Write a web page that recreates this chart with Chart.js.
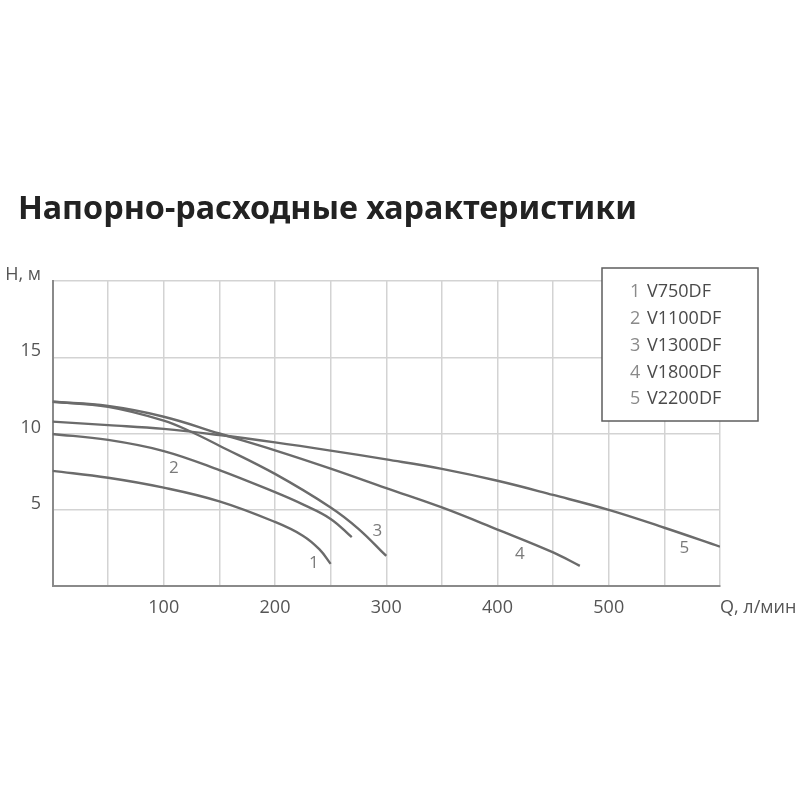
<!DOCTYPE html>
<html>
<head>
<meta charset="utf-8">
<script src="https://cdn.jsdelivr.net/npm/chart.js@4"></script>
<style>
  html, body { margin: 0; padding: 0; background: #fff; }
  #wrap { width: 800px; height: 800px; }
</style>
</head>
<body>
<div id="wrap"><canvas id="c" width="800" height="800"></canvas></div>
<script>
const titleText = "Напорно-расходные характеристики";

// модели насосов
const models = ["V750DF", "V1100DF", "V1300DF", "V1800DF", "V2200DF"];

// Q, л/мин и H, м для каждой кривой
const q1 = [0, 50, 100, 150, 200, 225, 240, 250];
const h1 = [7.55, 7.1, 6.45, 5.55, 4.2, 3.3, 2.4, 1.45];
const q2 = [0, 50, 100, 150, 200, 225, 250, 269];
const h2 = [9.97, 9.58, 8.85, 7.6, 6.15, 5.35, 4.4, 3.2];
const q3 = [0, 50, 100, 125, 150, 200, 250, 275, 300];
const h3 = [12.08, 11.75, 10.85, 10.1, 9.2, 7.35, 5.15, 3.75, 1.97];
const q4 = [0, 50, 100, 150, 200, 250, 300, 350, 400, 450, 474];
const h4 = [12.08, 11.8, 11.1, 10.0, 8.9, 7.7, 6.42, 5.15, 3.7, 2.2, 1.32];
const q5 = [0, 50, 100, 150, 200, 250, 300, 350, 400, 450, 500, 550, 600];
const h5 = [10.78, 10.55, 10.3, 9.9, 9.42, 8.88, 8.3, 7.68, 6.9, 5.97, 4.99, 3.82, 2.58];

// где стоят номера кривых (в единицах осей)
const labelQ = [235, 109, 292, 420, 568];
const labelH = [1.5, 7.7, 3.6, 2.1, 2.5];

// подписи делений
const xTicks = [100, 200, 300, 400, 500];
const yTicks = [5, 10, 15];

const qs = [q1, q2, q3, q4, q5];
const hs = [h1, h2, h3, h4, h5];

const lineColor = "#6b6b6b";

const datasets = models.map((m, i) => ({
  label: m,
  data: qs[i].map((q, j) => ({ x: q, y: hs[i][j] })),
  borderColor: lineColor,
  borderWidth: 2.4,
  pointRadius: 0,
  fill: false,
  tension: 0.4,
}));

// заголовок, номера кривых, подпись оси Q и рамка с легендой
const extras = {
  id: "extras",
  afterDraw(chart) {
    const ctx = chart.ctx;
    const xs = chart.scales.x, ys = chart.scales.y;
    ctx.save();

    ctx.font = "bold 32.3px 'Noto Sans'";
    ctx.fillStyle = "#222";
    ctx.textAlign = "left";
    ctx.textBaseline = "alphabetic";
    ctx.fillText(titleText, 18, 219);

    ctx.font = "17px 'Open Sans'";
    ctx.fillStyle = "#7a7a7a";
    ctx.textAlign = "center";
    ctx.textBaseline = "middle";
    labelQ.forEach((q, i) => {
      ctx.fillText(String(i + 1), xs.getPixelForValue(q), ys.getPixelForValue(labelH[i]));
    });

    ctx.font = "18px 'Open Sans'";
    ctx.fillStyle = "#555";
    ctx.textAlign = "left";
    ctx.fillText("Q, л/мин", xs.getPixelForValue(600), 608);

    // легенда
    const bx = 602, by = 268, bw = 156, bh = 153;
    ctx.fillStyle = "#fff";
    ctx.fillRect(bx, by, bw, bh);
    ctx.strokeStyle = "#5e5e5e";
    ctx.lineWidth = 1.5;
    ctx.strokeRect(bx, by, bw, bh);
    ctx.font = "18px 'Open Sans'";
    chart.data.datasets.forEach((ds, i) => {
      const y = 292 + i * 26.8;
      ctx.fillStyle = "#8a8a8a";
      ctx.fillText(String(i + 1), 630, y);
      ctx.fillStyle = "#4a4a4a";
      ctx.fillText(ds.label, 647, y);
    });
    ctx.restore();
  }
};

new Chart(document.getElementById("c"), {
  type: "line",
  data: { datasets },
  options: {
    responsive: false,
    animation: false,
    layout: { padding: { left: 0, right: 80, top: 281, bottom: 0 } },
    plugins: {
      legend: { display: false },
      tooltip: { enabled: false },
    },
    scales: {
      x: {
        type: "linear",
        min: 0,
        max: 600,
        afterFit: (s) => { s.height = 214; },
        ticks: {
          stepSize: 50,
          padding: 11,
          color: "#555",
          font: { family: "'Open Sans'", size: 18 },
          maxRotation: 0,
          autoSkip: false,
          callback: (v) => (xTicks.includes(v) ? String(v) : ""),
        },
        grid: { color: "#d3d3d3", lineWidth: 1.5, drawTicks: false },
        border: { color: "#8a8a8a", width: 2 },
      },
      y: {
        min: 0,
        max: 20,
        afterFit: (s) => { s.width = 52.5; },
        ticks: {
          stepSize: 5,
          padding: 11.5,
          labelOffset: -6,
          color: "#555",
          font: { family: "'Open Sans'", size: 18 },
          callback: (v) => (v === 20 ? "Н, м" : yTicks.includes(v) ? String(v) : ""),
        },
        grid: { color: "#d3d3d3", lineWidth: 1.5, drawTicks: false },
        border: { color: "#8a8a8a", width: 2 },
      },
    },
  },
  plugins: [extras],
});
</script>
</body>
</html>
